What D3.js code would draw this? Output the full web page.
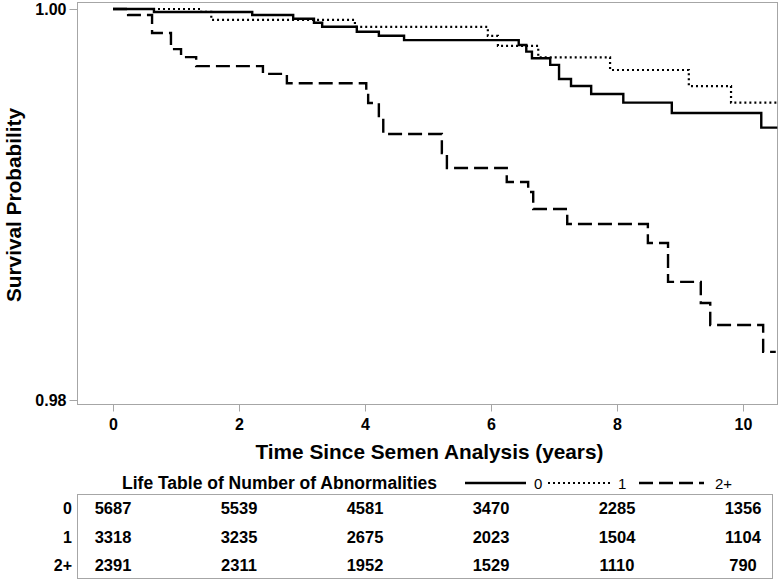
<!DOCTYPE html>
<html>
<head>
<meta charset="utf-8">
<script src="https://cdn.jsdelivr.net/npm/d3@7"></script>
<style>
  html, body { margin: 0; padding: 0; background: #fff; }
  svg { display: block; font-family: "Liberation Sans", Arial, Helvetica, sans-serif; }
</style>
</head>
<body>
<script>
// ---------------- data ----------------
const groups = ["0", "1", "2+"];
// Kaplan-Meier step points: times (years) and survival after each step
const times0 = [0, 0.65, 2.21, 2.86, 3.19, 3.32, 3.87, 4.22, 4.62, 6.44, 6.56, 6.65, 6.94, 7.08, 7.27, 7.59, 8.10, 8.87, 10.29];
const surv0  = [1.0, 0.99985, 0.99969, 0.99950, 0.99930, 0.99909, 0.99884, 0.99863, 0.99841, 0.99816, 0.99782, 0.99748, 0.99714, 0.99642, 0.99606, 0.99565, 0.99521, 0.99468, 0.99393];
const times1 = [0, 1.40, 1.56, 3.84, 5.95, 6.11, 6.75, 7.89, 9.14, 9.81];
const surv1  = [1.0, 0.99985, 0.99944, 0.99909, 0.99863, 0.99811, 0.99753, 0.99688, 0.99606, 0.99521];
const times2 = [0, 0.24, 0.62, 0.92, 1.08, 1.32, 2.38, 2.76, 4.02, 4.05, 4.22, 4.29, 5.22, 5.30, 6.25, 6.59, 6.67, 7.21, 8.49, 8.81, 9.33, 9.48, 10.32];
const surv2  = [1.0, 0.99969, 0.99877, 0.99795, 0.99754, 0.99708, 0.99668, 0.99620, 0.99560, 0.99519, 0.99442, 0.99361, 0.99263, 0.99187, 0.99115, 0.99064, 0.98977, 0.98900, 0.98803, 0.98604, 0.98496, 0.98384, 0.98246];
const endTimes = [10.55, 10.55, 10.52];

const xTicks = [0, 2, 4, 6, 8, 10];
const yTicks = [0.98, 1.00];
const riskTimes = [0, 2, 4, 6, 8, 10];
const atRisk0 = [5687, 5539, 4581, 3470, 2285, 1356];
const atRisk1 = [3318, 3235, 2675, 2023, 1504, 1104];
const atRisk2 = [2391, 2311, 1952, 1529, 1110, 790];

const xTitle = "Time Since Semen Analysis (years)";
const yTitle = "Survival Probability";
const tableTitle = "Life Table of Number of Abnormalities";

// ---------------- layout ----------------
const W = 780, H = 581;
const frame = { left: 77.5, right: 777.5, top: 2.5, bottom: 404.5 };
const x = d3.scaleLinear().domain([0, 10]).range([113, 743]);
const y = d3.scaleLinear().domain([0.98, 1.00]).range([400, 9]);
const gray = "#a6a6a6";

const styles = [
  { dash: null, width: 2.4 },
  { dash: "2,3", width: 2.2 },
  { dash: "14,6", width: 2.4 }
];

const svg = d3.select("body").append("svg").attr("width", W).attr("height", H);

// clip for curves
svg.append("defs").append("clipPath").attr("id", "plotclip")
  .append("rect").attr("x", frame.left).attr("y", frame.top - 3)
  .attr("width", frame.right - frame.left).attr("height", frame.bottom - frame.top + 3);

// frame
svg.append("rect")
  .attr("x", frame.left).attr("y", frame.top)
  .attr("width", frame.right - frame.left).attr("height", frame.bottom - frame.top)
  .attr("fill", "none").attr("stroke", gray).attr("stroke-width", 1);

// axes
const yAxis = d3.axisLeft(y).tickValues(yTicks).tickFormat(d3.format(".2f")).tickSize(8).tickPadding(3);
const gy = svg.append("g").attr("transform", `translate(${frame.left},0)`).call(yAxis);
const xAxis = d3.axisBottom(x).tickValues(xTicks).tickFormat(d3.format("d")).tickSize(7).tickPadding(7);
const gx = svg.append("g").attr("transform", `translate(0,${frame.bottom})`).call(xAxis);
[gx, gy].forEach(g => {
  g.select(".domain").remove();
  g.selectAll(".tick line").attr("stroke", gray);
  g.selectAll(".tick text").attr("fill", "#000").style("font-size", "16px").style("font-weight", "bold")
    .style("font-family", '"Liberation Sans", Arial, sans-serif');
});
gy.selectAll(".tick text").attr("dy", "0.36em");
gx.selectAll(".tick text").attr("dy", "0.71em");

// axis titles
svg.append("text").attr("x", (frame.left + frame.right) / 2 + 2).attr("y", 459)
  .attr("text-anchor", "middle").style("font-size", "20.8px").style("font-weight", "bold").text(xTitle);
svg.append("text").attr("transform", `translate(21,205) rotate(-90)`)
  .attr("text-anchor", "middle").style("font-size", "20.8px").style("font-weight", "bold").text(yTitle);

// curves
const allTimes = [times0, times1, times2];
const allSurv = [surv0, surv1, surv2];
const line = d3.line().x(d => x(d[0])).y(d => y(d[1])).curve(d3.curveStepAfter);
const order = [1, 2, 0];
const gc = svg.append("g").attr("clip-path", "url(#plotclip)");
order.forEach(i => {
  const pts = allTimes[i].map((t, k) => [t, allSurv[i][k]]);
  pts.push([endTimes[i], allSurv[i][allSurv[i].length - 1]]);
  gc.append("path").datum(pts).attr("d", line)
    .attr("fill", "none").attr("stroke", "#000")
    .attr("stroke-width", styles[i].width)
    .attr("stroke-dasharray", styles[i].dash)
    .attr("stroke-linejoin", "miter");
});

// table title + legend
svg.append("text").attr("x", 122).attr("y", 489)
  .style("font-size", "17.5px").style("font-weight", "bold").text(tableTitle);
const legX = [465, 548, 639];
const legLen = [61, 64, 65];
const legTextX = [534, 618, 715];
groups.forEach((g, i) => {
  svg.append("line").attr("x1", legX[i]).attr("x2", legX[i] + legLen[i])
    .attr("y1", 483).attr("y2", 483)
    .attr("stroke", "#000").attr("stroke-width", styles[i].width)
    .attr("stroke-dasharray", styles[i].dash);
  svg.append("text").attr("x", legTextX[i]).attr("y", 488.5)
    .style("font-size", "15px").text(g);
});

// table box
svg.append("rect").attr("x", frame.left).attr("y", 494.5)
  .attr("width", 772.5 - frame.left).attr("height", 84)
  .attr("fill", "none").attr("stroke", gray).attr("stroke-width", 1);

const rowY = [508, 537, 565];
const risks = [atRisk0, atRisk1, atRisk2];
groups.forEach((g, i) => {
  svg.append("text").attr("x", 72).attr("y", rowY[i]).attr("dy", "0.36em")
    .attr("text-anchor", "end").style("font-size", "16px").style("font-weight", "bold").text(g);
  svg.append("g").selectAll("text").data(riskTimes).join("text")
    .attr("x", d => x(d)).attr("y", rowY[i]).attr("dy", "0.36em")
    .attr("text-anchor", "middle").style("font-size", "16.5px").style("font-weight", "bold")
    .text((d, k) => risks[i][k]);
});
</script>
</body>
</html>
